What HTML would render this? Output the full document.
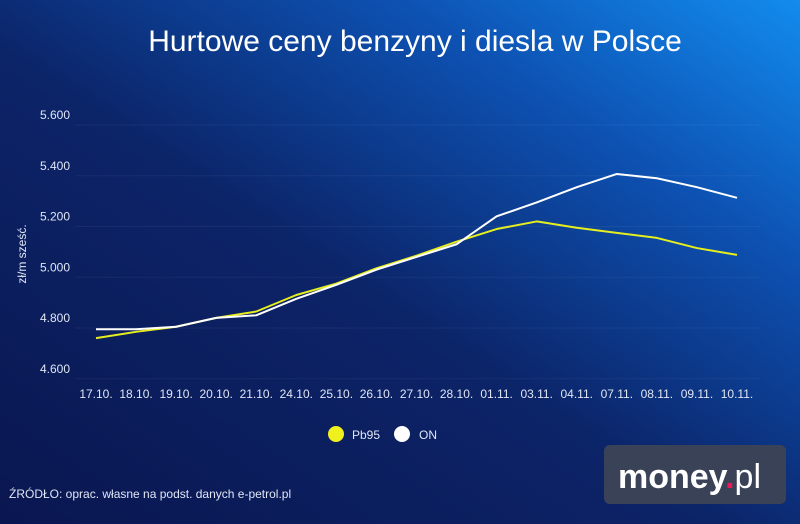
<!DOCTYPE html>
<html><head><meta charset="utf-8"><style>
html,body{margin:0;padding:0}
body{width:800px;height:524px;overflow:hidden;font-family:"Liberation Sans",sans-serif;background:#0c2266;position:relative}
</style></head><body>
<svg width="800" height="524" style="position:absolute;left:0;top:0">
<defs>
<linearGradient id="bg" x1="0" y1="1" x2="1" y2="0">
<stop offset="0" stop-color="#0a1650"/><stop offset="0.45" stop-color="#0c2468"/><stop offset="0.75" stop-color="#0d52b3"/><stop offset="1" stop-color="#128cee"/>
</linearGradient></defs>
<rect width="800" height="524" fill="url(#bg)"/>
<text x="415" y="51" text-anchor="middle" fill="#fff" font-size="30">Hurtowe ceny benzyny i diesla w Polsce</text>
<g id="grid"></g><g id="yt"></g><g id="xt"></g><g id="lines"></g>
<text transform="translate(26,254) rotate(-90)" text-anchor="middle" fill="#e0e6f5" font-size="12">zł/m sześć.</text>
<g>
<circle cx="336" cy="434" r="8" fill="#f0f01e"/>
<text x="352" y="439" fill="#e0e6f5" font-size="12">Pb95</text>
<circle cx="402" cy="434" r="8" fill="#fff"/>
<text x="419" y="439" fill="#e0e6f5" font-size="12">ON</text>
</g>
<text x="9" y="498" fill="#e0e6f5" font-size="12">ŹRÓDŁO: oprac. własne na podst. danych e-petrol.pl</text>
<rect x="604" y="445" width="182" height="59" rx="6" fill="#3a4258"/>
<text x="618" y="488" fill="#fff" font-size="34" font-weight="bold">money<tspan fill="#e8185a">.</tspan><tspan font-weight="normal">pl</tspan></text>
</svg>
<script>
const categories=["17.10.","18.10.","19.10.","20.10.","21.10.","24.10.","25.10.","26.10.","27.10.","28.10.","01.11.","03.11.","04.11.","07.11.","08.11.","09.11.","10.11."];
const pb95=[4.76,4.785,4.805,4.84,4.865,4.93,4.975,5.035,5.085,5.14,5.19,5.22,5.195,5.175,5.155,5.115,5.088];
const on=[4.795,4.795,4.805,4.84,4.85,4.915,4.97,5.03,5.08,5.13,5.24,5.295,5.355,5.407,5.39,5.355,5.313];
const yTicks=[4.6,4.8,5.0,5.2,5.4,5.6];
const yLabels=["4.600","4.800","5.000","5.200","5.400","5.600"];
const NS="http://www.w3.org/2000/svg";
const x0=96,x1=737,yBase=328,ppu=253.75;
const X=i=>x0+i*(x1-x0)/(categories.length-1);
const Y=v=>yBase-(v-4.8)*ppu;
function mk(t,a,p){const e=document.createElementNS(NS,t);for(const k in a)e.setAttribute(k,a[k]);document.getElementById(p).appendChild(e);return e;}
yTicks.forEach((v,i)=>{
 const g=mk('line',{x1:75,x2:760,y1:Y(v),y2:Y(v),stroke:'rgba(255,255,255,0.05)'},'grid');
 
 
 const t=mk('text',{x:70,y:Y(v)-6,'text-anchor':'end',fill:'#e0e6f5','font-size':'12'},'yt');
 t.textContent=yLabels[i];
 
 
});
categories.forEach((c,i)=>{
 const t=mk('text',{x:X(i),y:398,'text-anchor':'middle',fill:'#e0e6f5','font-size':'12'},'xt');
 t.textContent=c;
 
 
});
function line(d,col,name){
 const p=mk('polyline',{points:d.map((v,i)=>X(i)+','+Y(v)).join(' '),fill:'none',stroke:col,'stroke-width':2,'stroke-linejoin':'round'},'lines');
 
 
}
line(pb95,'#e6ee1e','line-pb95');
line(on,'#ffffff','line-on');
</script>
</body></html>
